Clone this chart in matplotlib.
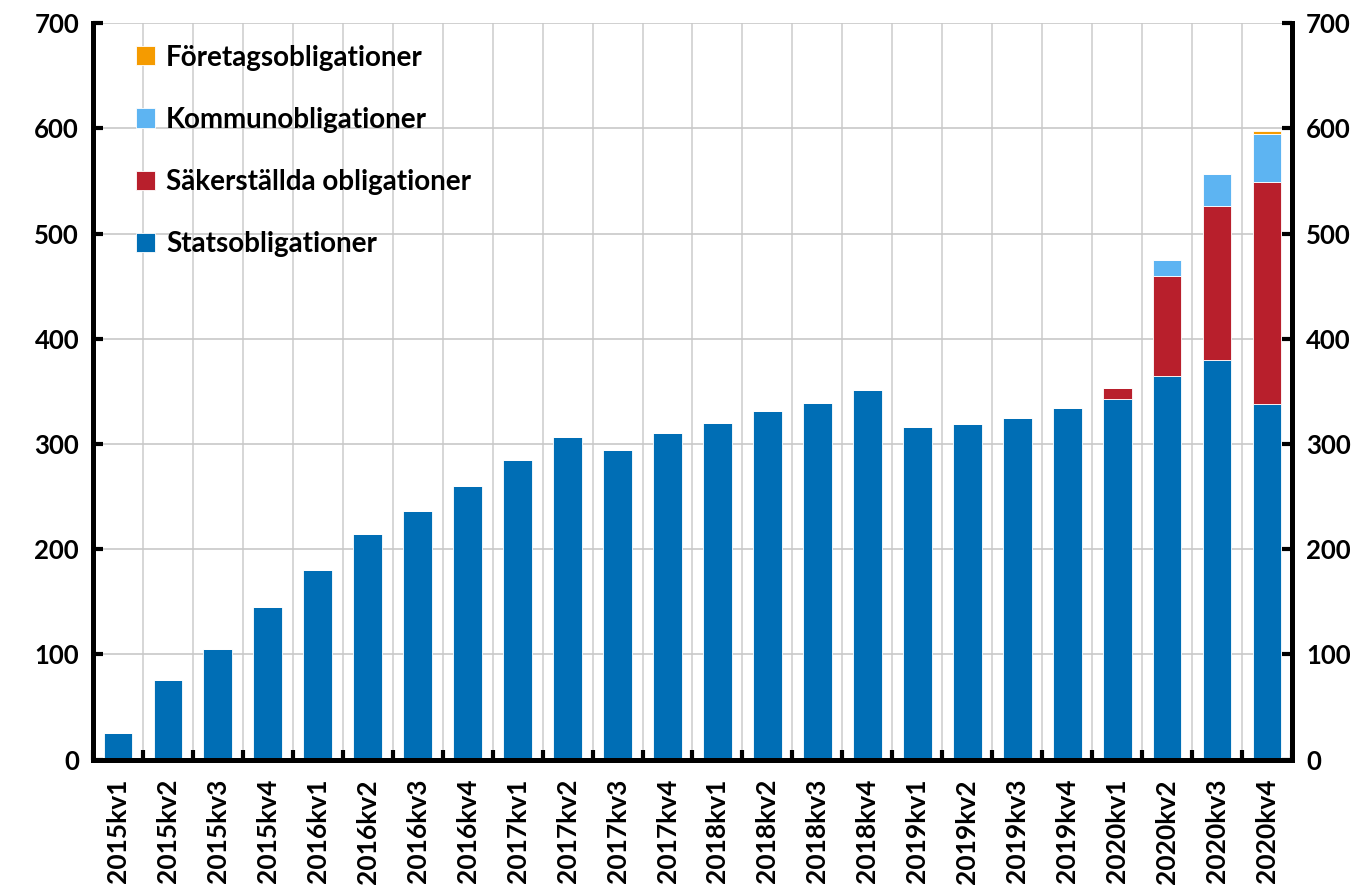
import matplotlib
matplotlib.use("Agg")
import matplotlib.pyplot as plt
from matplotlib.ticker import MultipleLocator, FixedLocator
import numpy as np

categories = ["2015kv1", "2015kv2", "2015kv3", "2015kv4",
              "2016kv1", "2016kv2", "2016kv3", "2016kv4",
              "2017kv1", "2017kv2", "2017kv3", "2017kv4",
              "2018kv1", "2018kv2", "2018kv3", "2018kv4",
              "2019kv1", "2019kv2", "2019kv3", "2019kv4",
              "2020kv1", "2020kv2", "2020kv3", "2020kv4"]
stats = [25.5, 76, 105, 145, 180, 214, 236, 260, 285, 307, 294, 310,
         320, 331, 339, 351, 316, 319, 325, 334, 343, 365, 380, 338]
sakerstallda = [0]*20 + [10.5, 95, 146, 211]
kommun = [0]*21 + [15, 30.5, 45.5]
foretag = [0]*22 + [0.5, 3]

labels = ["Statsobligationer", "Säkerställda obligationer",
          "Kommunobligationer", "Företagsobligationer"]
colors = ["#006EB5", "#B81F2C", "#5DB4F2", "#F59B00"]

plt.rcParams['font.family'] = ['Lato', 'DejaVu Sans']
plt.rcParams['font.weight'] = 'bold'

fig = plt.figure(figsize=(13.71, 8.85), dpi=100)
ax = fig.add_axes([0.0678, 0.1418, 0.8746, 0.8319])

x = np.arange(len(categories))
series = [stats, sakerstallda, kommun, foretag]
bottom = np.zeros(len(categories))
handles = []
for vals, lab, col in zip(series, labels, colors):
    v = np.array(vals, dtype=float)
    h = ax.bar(x, v, 0.575, bottom=bottom, color=col, label=lab,
               edgecolor="white", linewidth=0.6, zorder=3)
    handles.append(h)
    bottom += v

ax.set_xlim(-0.5, len(categories) - 0.5)
ax.set_ylim(0, 700)
ax.yaxis.set_major_locator(MultipleLocator(100))
ax.set_xticks(x)
ax.set_xticklabels(categories, rotation=90, fontsize=19, fontweight='bold')
ax.xaxis.set_minor_locator(FixedLocator(np.arange(-0.5, len(categories), 1.0)))
ax.tick_params(axis='x', which='major', length=0, pad=14)
ax.tick_params(axis='x', which='minor', direction='in', length=7, width=3)
ax.tick_params(axis='y', direction='in', length=7, width=3, labelsize=18.5, pad=10)
for t in ax.get_yticklabels():
    t.set_fontweight('bold')

ax.grid(True, axis='y', color='#C8C8C8', linewidth=1.2, zorder=0)
ax.grid(True, axis='x', which='minor', color='#D0D0D0', linewidth=1.2, zorder=0)
ax.set_axisbelow(True)

for s in ['left', 'right', 'bottom']:
    ax.spines[s].set_linewidth(3.5)
    ax.spines[s].set_zorder(5)
ax.spines['top'].set_visible(False)

ax2 = ax.twinx()
ax2.set_ylim(0, 700)
ax2.yaxis.set_major_locator(MultipleLocator(100))
ax2.tick_params(axis='y', direction='in', length=7, width=3, labelsize=18.5, pad=10)
for t in ax2.get_yticklabels():
    t.set_fontweight('bold')
for s in ['left', 'right', 'bottom']:
    ax2.spines[s].set_linewidth(3.5)
ax2.spines['top'].set_visible(False)

leg = ax.legend(handles[::-1], labels[::-1], loc='upper left',
                bbox_to_anchor=(0.015, 1.005), frameon=False,
                prop={'size': 20, 'weight': 'bold'},
                handlelength=0.68, handleheight=0.68, handletextpad=0.4,
                labelspacing=1.3)

fig.savefig("out.png", dpi=100)
